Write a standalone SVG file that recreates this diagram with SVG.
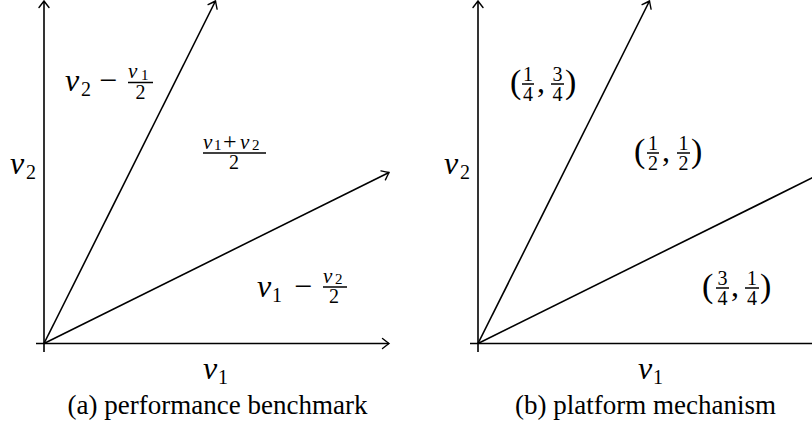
<svg xmlns="http://www.w3.org/2000/svg" width="812" height="425" viewBox="0 0 812 425">
<style>
.ax{stroke:#000;stroke-width:1.6;fill:none}
.bar{stroke:#000;stroke-width:1.5}
text{font-family:"Liberation Serif","Times New Roman",serif;fill:#000}
.mi{font-style:italic;font-size:32px}
.sub{font-size:20px}
.smi{font-style:italic;font-size:21px}
.ssub{font-size:15px}
.num{font-size:20px;text-anchor:middle}
.op{font-size:32px}
.pl{font-size:24px}
.par{font-size:34px}
.cap{font-size:27px;text-anchor:middle}
</style>
<defs>
<marker id="arr" markerUnits="userSpaceOnUse" markerWidth="14" markerHeight="14" viewBox="-8 -7 10 14" refX="0" refY="0" orient="auto">
<path d="M-6.5,-5 Q-2,-1.5 0,0 Q-2,1.5 -6.5,5" fill="none" stroke="#000" stroke-width="1.4" stroke-linecap="round"/>
</marker>
</defs>
<rect width="812" height="425" fill="#fff"/>
<g id="connectors">
<line class="ax" x1="44" y1="352" x2="44" y2="1" marker-end="url(#arr)"/>
<line class="ax" x1="36" y1="343.5" x2="389" y2="343.5" marker-end="url(#arr)"/>
<line class="ax" x1="44" y1="343.5" x2="215.5" y2="1" marker-end="url(#arr)"/>
<line class="ax" x1="44" y1="343.5" x2="389" y2="172.5" marker-end="url(#arr)"/>
<line class="ax" x1="478" y1="352" x2="478" y2="1" marker-end="url(#arr)"/>
<line class="ax" x1="470" y1="343.5" x2="823" y2="343.5" marker-end="url(#arr)"/>
<line class="ax" x1="478" y1="343.5" x2="649.5" y2="1" marker-end="url(#arr)"/>
<line class="ax" x1="478" y1="343.5" x2="823" y2="172.5" marker-end="url(#arr)"/>
</g>
<g id="axis-labels-a">
<text class="mi" x="10" y="174">v</text><text class="sub" x="26" y="179">2</text>
<text class="mi" x="203" y="379">v</text><text class="sub" x="218" y="384">1</text>
</g>
<g id="region-a-top">
<text class="mi" x="65" y="91">v</text><text class="sub" x="81" y="96">2</text>
<text class="op" x="99" y="91">−</text>
<line class="bar" x1="128" y1="82.5" x2="153" y2="82.5"/>
<text class="smi" x="128" y="78">v</text><text class="ssub" x="141" y="79.5">1</text>
<text class="num" x="140.5" y="99">2</text>
</g>
<g id="region-a-mid">
<line class="bar" x1="203" y1="153" x2="266" y2="153"/>
<text class="smi" x="203" y="148.5">v</text><text class="ssub" x="214" y="150">1</text>
<text class="pl" x="223" y="148.5">+</text>
<text class="smi" x="240" y="148.5">v</text><text class="ssub" x="252" y="150">2</text>
<text class="num" x="234" y="169">2</text>
</g>
<g id="region-a-bot">
<text class="mi" x="257" y="297">v</text><text class="sub" x="272" y="302">1</text>
<text class="op" x="294" y="297">−</text>
<line class="bar" x1="323" y1="287" x2="347" y2="287"/>
<text class="smi" x="323" y="282.5">v</text><text class="ssub" x="335" y="284">2</text>
<text class="num" x="334" y="303">2</text>
</g>
<g id="caption-a"><text class="cap" x="217.5" y="414">(a) performance benchmark</text></g>
<g id="axis-labels-b">
<text class="mi" x="444" y="174">v</text><text class="sub" x="460" y="179">2</text>
<text class="mi" x="638" y="379">v</text><text class="sub" x="653" y="384">1</text>
</g>
<g id="region-b-top">
<text class="par" x="510" y="93">(</text>
<line class="bar" x1="522" y1="84" x2="534" y2="84"/>
<text class="num" x="528" y="81">1</text><text class="num" x="528" y="101">4</text>
<text class="op" x="537" y="92">,</text>
<line class="bar" x1="551" y1="84" x2="564" y2="84"/>
<text class="num" x="557.5" y="81">3</text><text class="num" x="557.5" y="101">4</text>
<text class="par" x="565" y="93">)</text>
</g>
<g id="region-b-mid">
<text class="par" x="634" y="162">(</text>
<line class="bar" x1="647" y1="153" x2="659" y2="153"/>
<text class="num" x="653" y="150">1</text><text class="num" x="653" y="170">2</text>
<text class="op" x="662" y="161">,</text>
<line class="bar" x1="677" y1="153" x2="690" y2="153"/>
<text class="num" x="683.5" y="150">1</text><text class="num" x="683.5" y="170">2</text>
<text class="par" x="691" y="162">)</text>
</g>
<g id="region-b-bot">
<text class="par" x="702" y="297">(</text>
<line class="bar" x1="716" y1="288" x2="729" y2="288"/>
<text class="num" x="722.5" y="285">3</text><text class="num" x="722.5" y="305">4</text>
<text class="op" x="731" y="296">,</text>
<line class="bar" x1="745" y1="288" x2="759" y2="288"/>
<text class="num" x="752" y="285">1</text><text class="num" x="752" y="305">4</text>
<text class="par" x="760" y="297">)</text>
</g>
<g id="caption-b"><text class="cap" x="645.5" y="414">(b) platform mechanism</text></g>
</svg>
